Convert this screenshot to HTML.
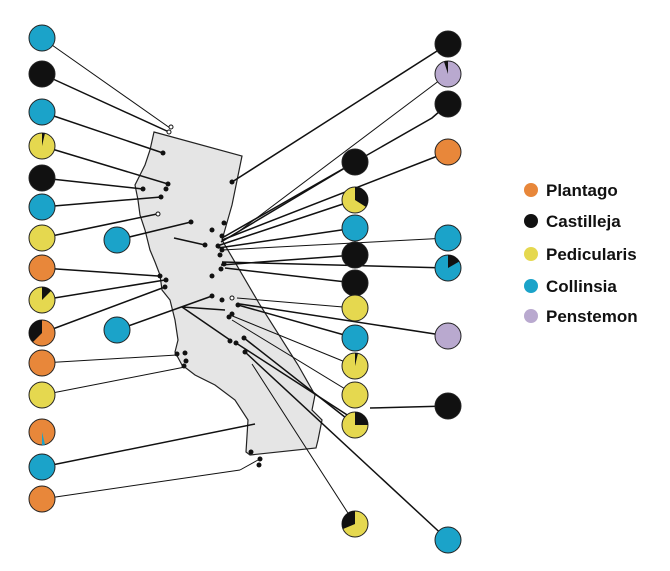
<!DOCTYPE html>
<html><head><style>body{margin:0;background:#fff}</style></head><body>
<svg width="670" height="566" viewBox="0 0 670 566" xmlns="http://www.w3.org/2000/svg" font-family="Liberation Sans, sans-serif">
<polygon points="154,132 242,156 232,205 222,240 260,305 298,365 315,395 312,410 322,420 318,440 316,448 250,455 246,452 248,420 235,400 215,385 195,375 182,365 175,352 178,340 175,320 170,300 162,290 160,275 155,262 150,250 145,230 140,215 138,200 135,185 140,175 145,165 150,150" fill="#e5e5e5" stroke="#222" stroke-width="1.2"/>
<g stroke="#111" stroke-width="1.5">
<line x1="42" y1="38" x2="170" y2="128" stroke-width="1"/><line x1="42" y1="74" x2="169" y2="132"/>
<line x1="42" y1="112" x2="163" y2="153"/><line x1="42" y1="146" x2="168" y2="184"/>
<line x1="42" y1="178" x2="143" y2="189"/><line x1="42" y1="207" x2="161" y2="197"/>
<line x1="42" y1="238" x2="157" y2="214"/><line x1="117" y1="240" x2="191" y2="222"/>
<line x1="42" y1="268" x2="158" y2="276"/><line x1="42" y1="300" x2="165" y2="280"/>
<line x1="42" y1="333" x2="165" y2="287"/><line x1="117" y1="330" x2="212" y2="296"/>
<line x1="42" y1="363" x2="177" y2="355" stroke-width="1"/><line x1="42" y1="395" x2="185" y2="367" stroke-width="1"/>
<line x1="42" y1="467" x2="255" y2="424"/><line x1="42" y1="499" x2="240" y2="470" stroke-width="1"/>
<polyline points="240,470 258,460" fill="none" stroke-width="1"/>
<line x1="448" y1="44" x2="232" y2="182"/><line x1="448" y1="74" x2="238" y2="232" stroke-width="1"/>
<polyline points="448,104 432,118 222,238" fill="none"/><line x1="448" y1="152" x2="222" y2="240"/>
<line x1="355" y1="162" x2="221" y2="242"/><line x1="355" y1="200" x2="220" y2="245"/>
<line x1="355" y1="228" x2="218" y2="248"/><line x1="448" y1="238" x2="222" y2="250" stroke-width="1"/>
<line x1="448" y1="268" x2="222" y2="262"/><line x1="355" y1="255" x2="221" y2="265"/>
<line x1="355" y1="283" x2="225" y2="268"/><line x1="355" y1="308" x2="237" y2="298" stroke-width="1"/>
<line x1="355" y1="338" x2="238" y2="305"/><line x1="448" y1="336" x2="240" y2="304"/>
<line x1="355" y1="366" x2="230" y2="315" stroke-width="1"/><line x1="355" y1="395" x2="232" y2="320" stroke-width="1"/>
<line x1="355" y1="425" x2="244" y2="338"/><line x1="448" y1="406" x2="370" y2="408"/>
<line x1="355" y1="420" x2="236" y2="343"/><line x1="448" y1="540" x2="245" y2="352"/>
<line x1="355" y1="524" x2="252" y2="364" stroke-width="1"/>
<line x1="182" y1="307" x2="230" y2="340"/><line x1="182" y1="307" x2="225" y2="310"/>
<line x1="174" y1="238" x2="205" y2="245"/>
</g>
<g fill="#111">
<circle cx="163" cy="153" r="2.5"/><circle cx="168" cy="184" r="2.5"/><circle cx="143" cy="189" r="2.5"/><circle cx="166" cy="189" r="2.5"/><circle cx="161" cy="197" r="2.5"/>
<circle cx="191" cy="222" r="2.5"/><circle cx="212" cy="230" r="2.5"/><circle cx="205" cy="245" r="2.5"/><circle cx="232" cy="182" r="2.5"/>
<circle cx="224" cy="223" r="2.5"/><circle cx="222" cy="236" r="2.5"/><circle cx="218" cy="246" r="2.5"/><circle cx="222" cy="250" r="2.5"/><circle cx="220" cy="255" r="2.5"/><circle cx="224" cy="264" r="2.5"/><circle cx="221" cy="269" r="2.5"/><circle cx="212" cy="276" r="2.5"/>
<circle cx="160" cy="276" r="2.5"/><circle cx="166" cy="280" r="2.5"/><circle cx="165" cy="287" r="2.5"/>
<circle cx="212" cy="296" r="2.5"/><circle cx="222" cy="300" r="2.5"/><circle cx="238" cy="305" r="2.5"/><circle cx="229" cy="317" r="2.5"/><circle cx="232" cy="314" r="2.5"/>
<circle cx="230" cy="341" r="2.5"/><circle cx="236" cy="343" r="2.5"/><circle cx="244" cy="338" r="2.5"/><circle cx="245" cy="352" r="2.5"/>
<circle cx="177" cy="354" r="2.5"/><circle cx="185" cy="353" r="2.5"/><circle cx="186" cy="361" r="2.5"/><circle cx="184" cy="366" r="2.5"/>
<circle cx="251" cy="452" r="2.5"/><circle cx="260" cy="459" r="2.5"/><circle cx="259" cy="465" r="2.5"/>
</g>
<g fill="#fff" stroke="#111"><circle cx="171" cy="127" r="2"/><circle cx="169" cy="132" r="2"/><circle cx="158" cy="214" r="2"/><circle cx="232" cy="298" r="2"/></g>
<g stroke="#222" stroke-width="1">
<circle cx="42" cy="38" r="13" fill="#1ba3c9"/><circle cx="42" cy="74" r="13" fill="#111"/><circle cx="42" cy="112" r="13" fill="#1ba3c9"/>
<circle cx="42" cy="146" r="13" fill="#e5d84f"/><circle cx="42" cy="178" r="13" fill="#111"/><circle cx="42" cy="207" r="13" fill="#1ba3c9"/>
<circle cx="42" cy="238" r="13" fill="#e5d84f"/><circle cx="42" cy="268" r="13" fill="#e8873a"/><circle cx="42" cy="300" r="13" fill="#e5d84f"/>
<circle cx="42" cy="333" r="13" fill="#e8873a"/><circle cx="42" cy="363" r="13" fill="#e8873a"/><circle cx="42" cy="395" r="13" fill="#e5d84f"/>
<circle cx="42" cy="432" r="13" fill="#e8873a"/><circle cx="42" cy="467" r="13" fill="#1ba3c9"/><circle cx="42" cy="499" r="13" fill="#e8873a"/>
<circle cx="117" cy="240" r="13" fill="#1ba3c9"/><circle cx="117" cy="330" r="13" fill="#1ba3c9"/>
<circle cx="448" cy="44" r="13" fill="#111"/><circle cx="448" cy="74" r="13" fill="#b9a9cf"/><circle cx="448" cy="104" r="13" fill="#111"/><circle cx="448" cy="152" r="13" fill="#e8873a"/>
<circle cx="355" cy="162" r="13" fill="#111"/><circle cx="355" cy="200" r="13" fill="#e5d84f"/><circle cx="355" cy="228" r="13" fill="#1ba3c9"/><circle cx="355" cy="255" r="13" fill="#111"/>
<circle cx="355" cy="283" r="13" fill="#111"/><circle cx="355" cy="308" r="13" fill="#e5d84f"/><circle cx="355" cy="338" r="13" fill="#1ba3c9"/><circle cx="355" cy="366" r="13" fill="#e5d84f"/>
<circle cx="355" cy="395" r="13" fill="#e5d84f"/><circle cx="355" cy="425" r="13" fill="#e5d84f"/><circle cx="355" cy="524" r="13" fill="#e5d84f"/>
<circle cx="448" cy="238" r="13" fill="#1ba3c9"/><circle cx="448" cy="268" r="13" fill="#1ba3c9"/><circle cx="448" cy="336" r="13" fill="#b9a9cf"/><circle cx="448" cy="406" r="13" fill="#111"/><circle cx="448" cy="540" r="13" fill="#1ba3c9"/>
</g>
<g fill="#111">
<path d="M42,146 L42,133 A13,13 0 0 1 45,133.3 Z"/>
<path d="M42,300 L42,287 A13,13 0 0 1 51.2,290.8 Z"/>
<path d="M42,333 L42,320 A13,13 0 0 0 29,333 A13,13 0 0 0 33,342 Z"/>
<path d="M448,74 L448,61 A13,13 0 0 0 444,61.6 Z"/>
<path d="M355,200 L355,187 A13,13 0 0 1 366,207 Z"/>
<path d="M448,268 L448,255 A13,13 0 0 1 459.3,261.5 Z"/>
<path d="M355,366 L355,353 A13,13 0 0 1 358,353.3 Z"/>
<path d="M355,425 L355,412 A13,13 0 0 1 368,425 Z"/>
<path d="M355,524 L355,511 A13,13 0 0 0 343,529 Z"/>
</g>
<path d="M42,432 L42,445 A13,13 0 0 0 45,444.6 Z" fill="#1ba3c9"/>
<g font-size="17" font-weight="bold" fill="#111">
<circle cx="531" cy="190" r="7" fill="#e8873a"/><text x="546" y="196">Plantago</text>
<circle cx="531" cy="221" r="7" fill="#111"/><text x="546" y="227">Castilleja</text>
<circle cx="531" cy="254" r="7" fill="#e5d84f"/><text x="546" y="260">Pedicularis</text>
<circle cx="531" cy="286" r="7" fill="#1ba3c9"/><text x="546" y="292">Collinsia</text>
<circle cx="531" cy="316" r="7" fill="#b9a9cf"/><text x="546" y="322">Penstemon</text>
</g>
</svg>
</body></html>
